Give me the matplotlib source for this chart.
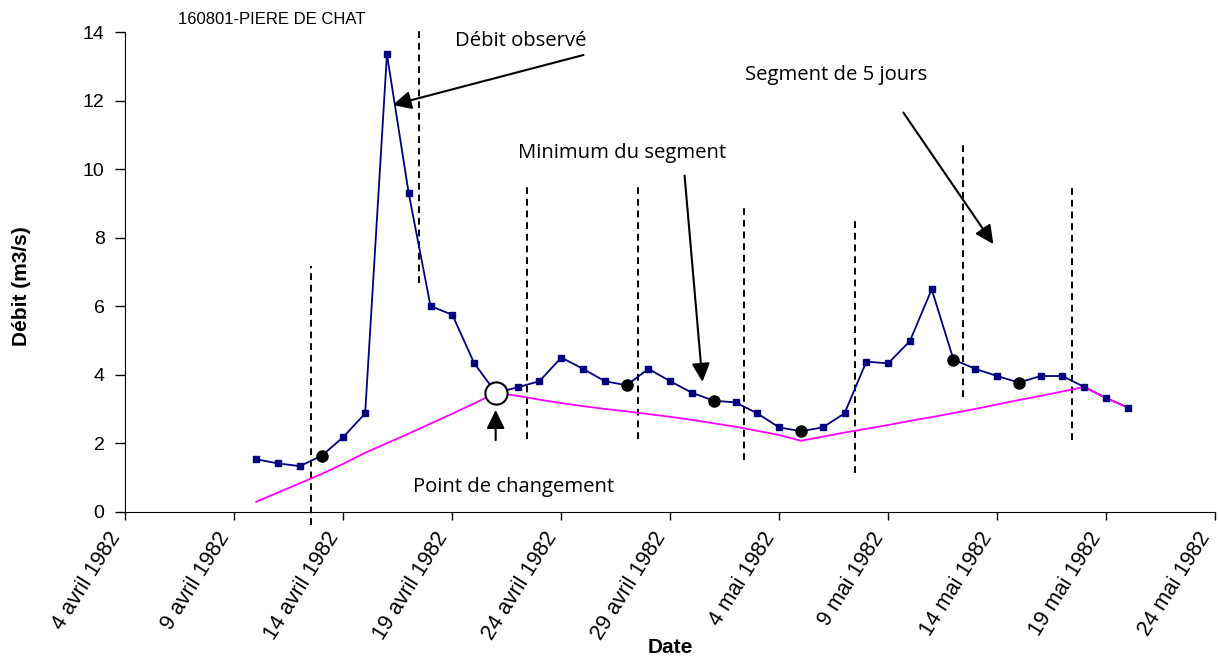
import numpy as np
import pandas as pd
import matplotlib
matplotlib.use("Agg")
import matplotlib.pyplot as plt
import matplotlib.transforms as mtransforms

plt.rcParams['font.family'] = ['Liberation Sans', 'DejaVu Sans']

# daily observed discharge, 10 avril -> 20 mai 1982
dates = pd.date_range('1982-04-10', '1982-05-20', freq='D')
debit = [1.53, 1.41, 1.33, 1.63, 2.18, 2.87, 13.35, 9.29, 6.00, 5.75, 4.34, 3.47,
         3.63, 3.81, 4.50, 4.17, 3.81, 3.69, 4.17, 3.81, 3.47,
         3.24, 3.19, 2.87, 2.46, 2.35, 2.46, 2.87, 4.38, 4.33, 4.98, 6.49,
         4.44, 4.17, 3.96, 3.77, 3.96, 3.96, 3.64, 3.32, 3.04]
# base flow (magenta)
base = [0.29, 0.56, 0.83, 1.10, 1.40, 1.72, 2.00, 2.28, 2.57, 2.86, 3.16, 3.47,
        3.38, 3.27, 3.17, 3.08, 3.00, 2.93, 2.85, 2.77, 2.68,
        2.58, 2.48, 2.36, 2.24, 2.07, 2.19, 2.31, 2.42, 2.53, 2.65, 2.76,
        2.88, 3.00, 3.13, 3.26, 3.38, 3.51, 3.64, 3.32, 3.04]

minima_dates = ['1982-04-13', '1982-04-27', '1982-05-01', '1982-05-05', '1982-05-12', '1982-05-15']
change_date = '1982-04-21'

# segment separators: (date, y bottom, y top)
seg_dates = ['1982-04-12 12:00', '1982-04-17 11:00', '1982-04-22 10:00', '1982-04-27 12:30',
             '1982-05-02 09:00', '1982-05-07 12:00', '1982-05-12 10:00', '1982-05-17 10:00']
seg_low = [-0.39, 6.68, 2.12, 2.12, 1.51, 1.13, 3.35, 2.09]
seg_high = [7.17, 14.12, 9.51, 9.51, 8.98, 8.57, 10.79, 9.54]

tick_dates = pd.date_range('1982-04-04', '1982-05-24', freq='5D')
tick_labels = ['4 avril 1982', '9 avril 1982', '14 avril 1982', '19 avril 1982',
               '24 avril 1982', '29 avril 1982', '4 mai 1982', '9 mai 1982',
               '14 mai 1982', '19 mai 1982', '24 mai 1982']

s = pd.Series(debit, index=dates)
b = pd.Series(base, index=dates)

fig = plt.figure(figsize=(12.18, 6.59), dpi=100)
ax = fig.add_axes([0.103, 0.2235, 0.8945, 0.7279])

ax.plot(s.index, s.values, color='#000080', lw=1.3, zorder=2)
ax.plot(b.index, b.values, color='#ff00ff', lw=1.3, zorder=3)
ax.plot(s.index, s.values, ls='none', marker='s', ms=4, color='#000080', zorder=4)

md = pd.to_datetime(minima_dates)
ax.plot(md, s[md].values, ls='none', marker='o', ms=8, color='black', zorder=5)
cd = pd.Timestamp(change_date)
ax.plot([cd], [s[cd]], ls='none', marker='o', ms=16, mfc='white', mec='black', mew=1.5, zorder=6)

for d, lo, hi in zip(pd.to_datetime(seg_dates), seg_low, seg_high):
    ax.plot([d, d], [lo, hi], color='black', lw=1.4, ls=(0, (3.5, 2.5)), clip_on=False, zorder=1)

def dd(day):
    return pd.Timestamp('1982-04-04') + pd.Timedelta(days=day)

arrow = dict(arrowstyle='-|>,head_length=0.45,head_width=0.22', color='black', lw=1.5,
             mutation_scale=25, shrinkA=0, shrinkB=0)
tfont = dict(family=['Open Sans', 'DejaVu Sans'], fontsize=14.6)
ax.annotate('', xy=(dd(12.26), 11.87), xytext=(dd(21.02), 13.33), arrowprops=arrow)
ax.text(dd(18.13), 13.75, 'Débit observé', ha='center', va='center', **tfont)
ax.annotate('', xy=(dd(26.48), 3.79), xytext=(dd(25.66), 9.81), arrowprops=arrow)
ax.text(dd(22.77), 10.47, 'Minimum du segment', ha='center', va='center', **tfont)
ax.annotate('', xy=(dd(39.83), 7.81), xytext=(dd(35.7), 11.65), arrowprops=arrow)
ax.text(dd(32.63), 12.74, 'Segment de 5 jours', ha='center', va='center', **tfont)
ax.annotate('', xy=(dd(16.99), 2.97), xytext=(dd(16.99), 2.09), arrowprops=arrow)
ax.text(dd(17.82), 0.72, 'Point de changement', ha='center', va='center', **tfont)

fig.text(178 / 1218, 1 - 20 / 659, '160801-PIERE DE CHAT', ha='left', va='center', fontsize=12)

ax.set_xlim(pd.Timestamp('1982-04-04'), pd.Timestamp('1982-05-24'))
ax.set_ylim(0, 14)
ax.set_yticks(np.arange(0, 15, 2))
ax.set_xticks(tick_dates)
ax.set_xticklabels(tick_labels, rotation=58, ha='right', va='bottom',
                   rotation_mode='anchor', fontsize=15.5)
shift = mtransforms.ScaledTranslation(-6 / 100, 0, fig.dpi_scale_trans)
for lab in ax.get_xticklabels():
    lab.set_transform(lab.get_transform() + shift)
ax.tick_params(axis='y', labelsize=14, direction='out', length=7, width=1, pad=8)
ax.tick_params(axis='x', direction='out', length=6, width=1, pad=14)
ax.spines['top'].set_visible(False)
ax.spines['right'].set_visible(False)
ax.set_xlabel('Date', fontsize=15, fontweight='bold')
ax.set_ylabel('Débit (m3/s)', fontsize=15, fontweight='bold')
ax.xaxis.set_label_coords(0.5, -0.263)
ax.yaxis.set_label_coords(-0.087, 0.47)

fig.savefig('out.png', dpi=100)
